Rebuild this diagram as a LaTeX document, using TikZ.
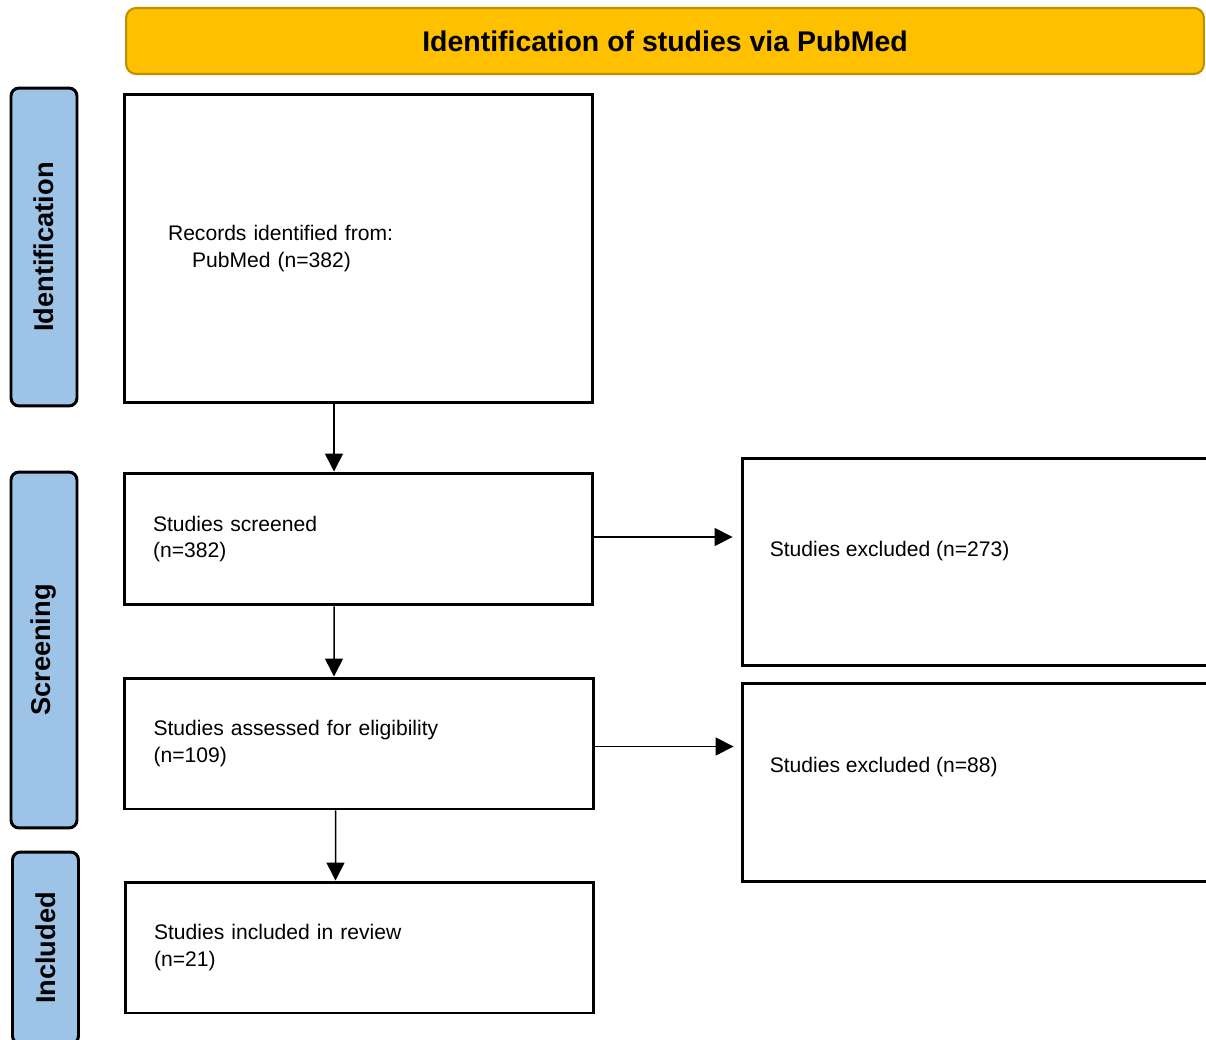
\documentclass[tikz,border=0pt]{standalone}
\usepackage{fontspec}
\setmainfont{Liberation Sans}
\usepackage{tikz}
\usetikzlibrary{positioning}
\usetikzlibrary{arrows.meta}
\definecolor{bannergold}{HTML}{FFC000}
\definecolor{bannerrim}{HTML}{BF9000}
\definecolor{phaseblue}{HTML}{9DC3E6}

\begin{document}
\begin{tikzpicture}[x=0.02cm, y=-0.02cm,
		flowbox/.style={draw=black, line width=1.7pt, fill=white, align=left, font=\fontsize{12}{15}\selectfont},
		phase/.style={draw=black, line width=1.7pt, fill=phaseblue, rounded corners=0.16cm, rotate=90, minimum height=1.32cm, font=\fontsize{15.5}{18}\selectfont\bfseries},
		flowarrow/.style={-{Triangle[length=0.36cm,width=0.36cm]}, line width=0.85pt}]
		\useasboundingbox (0,0) rectangle (1206,1040);
		\clip (0,0) rectangle (1206,1040);
		\node[draw=bannerrim, line width=1.2pt, fill=bannergold, rounded corners=0.2cm, minimum width=21.56cm, minimum height=1.32cm, font=\fontsize{16.2}{18}\selectfont\bfseries](banner) at (665,41){Identification of studies via PubMed};
		\node[phase, minimum width=6.36cm](identphase) at (44,247){Identification};
		\node[phase, minimum width=7.12cm](screenphase) at (44,650){Screening};
		\node[phase, minimum width=3.84cm](inclphase) at (45.5,948){Included};
		\node[flowbox, text width=7.62cm, inner xsep=0.88cm, minimum height=6.18cm](records) at (358.5,248.5){Records identified from:\\\hspace*{0.48cm}PubMed (n=382)};
		\node[flowbox, text width=8.22cm, inner xsep=0.58cm, minimum height=2.64cm](screened) at (358.5,539){Studies screened\\(n=382)};
		\node[flowbox, text width=8.22cm, inner xsep=0.58cm, minimum height=2.62cm](eligible) at (359,743.5){Studies assessed for eligibility\\(n=109)};
		\node[flowbox, text width=8.22cm, inner xsep=0.58cm, minimum height=2.62cm](included) at (359.5,947.5){Studies included in review\\(n=21)};
		\node[flowbox, minimum width=9.6cm, minimum height=4.16cm, label={[anchor=west, xshift=0.46cm, yshift=0.22cm, font=\fontsize{12}{15}\selectfont]west:Studies excluded (n=273)}](excludedA) at (982,562){};
		\node[flowbox, minimum width=9.6cm, minimum height=3.98cm, label={[anchor=west, xshift=0.46cm, yshift=0.31cm, font=\fontsize{12}{15}\selectfont]west:Studies excluded (n=88)}](excludedB) at (982,782.5){};
		\draw [flowarrow] ([xshift=-0.49cm]records.south) -- ([xshift=-0.49cm]screened.north);
		\draw [flowarrow] ([xshift=-0.49cm]screened.south) -- ([xshift=-0.5cm]eligible.north);
		\draw [flowarrow] ([xshift=-0.47cm]eligible.south) -- ([xshift=-0.48cm]included.north);
		\draw [flowarrow, shorten >=0.16cm] ([yshift=0.04cm]screened.east) -- ([yshift=0.04cm]screened.east -| excludedA.west);
		\draw [flowarrow, shorten >=0.14cm] ([yshift=-0.06cm]eligible.east) -- ([yshift=-0.06cm]eligible.east -| excludedB.west);
	\end{tikzpicture}
\end{document}
